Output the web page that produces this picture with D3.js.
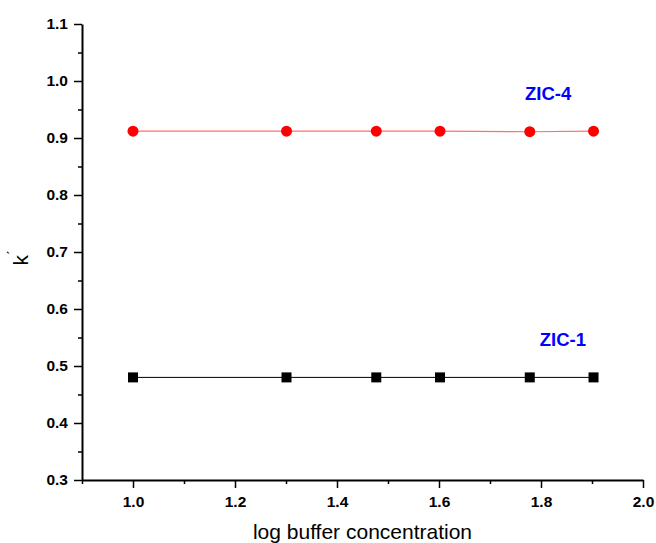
<!DOCTYPE html>
<html>
<head>
<meta charset="utf-8">
<script src="https://cdn.jsdelivr.net/npm/d3@7"></script>
<style>
  body { margin: 0; background: #fff; }
  svg { font-family: Arial, "Liberation Sans", sans-serif; }
</style>
</head>
<body>
<svg id="chart" width="656" height="543"></svg>
<script>
// DATA
const logConc = [1.0, 1.301, 1.477, 1.602, 1.778, 1.903];
const zic4 = [0.912, 0.912, 0.912, 0.912, 0.911, 0.912];
const zic1 = [0.48, 0.48, 0.48, 0.48, 0.48, 0.48];
const xTicks = [1.0, 1.2, 1.4, 1.6, 1.8, 2.0];
const yTicks = [0.3, 0.4, 0.5, 0.6, 0.7, 0.8, 0.9, 1.0, 1.1];

// SETUP
const margin = { top: 24, right: 13, bottom: 63, left: 82 },
    width = 656 - margin.left - margin.right,
    height = 543 - margin.top - margin.bottom;

const svg = d3.select("#chart")
    .append("g")
    .attr("transform", `translate(${margin.left},${margin.top})`);

// SCALES
const x = d3.scaleLinear().domain([0.9, 2.0]).range([0, width]);
const y = d3.scaleLinear().domain([0.3, 1.1]).range([height, 0]);

// minor ticks
const xMinor = d3.range(0.9, 2.0, 0.2).map(d => +d.toFixed(2));
const yMinor = d3.range(0.35, 1.1, 0.1).map(d => +d.toFixed(2));

svg.append("g")
    .attr("transform", `translate(0,${height})`)
    .call(d3.axisBottom(x).tickValues(xMinor).tickSize(4).tickFormat(""))
    .call(g => g.select(".domain").remove())
    .selectAll("line").attr("stroke-width", 1.5);

svg.append("g")
    .call(d3.axisLeft(y).tickValues(yMinor).tickSize(4).tickFormat(""))
    .call(g => g.select(".domain").remove())
    .selectAll("line").attr("stroke-width", 1.5);

// AXES
const xAxis = svg.append("g")
    .attr("transform", `translate(0,${height})`)
    .call(d3.axisBottom(x).tickValues(xTicks).tickSize(8).tickSizeOuter(0)
        .tickFormat(d3.format(".1f")));
xAxis.select(".domain").attr("stroke-width", 2);
xAxis.selectAll(".tick line").attr("stroke-width", 1.5);
xAxis.selectAll(".tick text")
    .attr("font-size", 15.5)
    .attr("font-weight", "bold")
    .attr("y", 16)
    .attr("dy", "0.71em");

const yAxis = svg.append("g")
    .call(d3.axisLeft(y).tickValues(yTicks).tickSize(8).tickSizeOuter(0)
        .tickFormat(d3.format(".1f")));
yAxis.select(".domain").attr("stroke-width", 2);
yAxis.selectAll(".tick line").attr("stroke-width", 1.5);
yAxis.selectAll(".tick text")
    .attr("font-size", 15.5)
    .attr("font-weight", "bold")
    .attr("x", -14);

// LINES
const line = d3.line()
    .x((d, i) => x(logConc[i]))
    .y(d => y(d));

svg.append("path")
    .datum(zic4)
    .attr("d", line)
    .attr("fill", "none")
    .attr("stroke", "#ff7070")
    .attr("stroke-width", 1.2);

svg.append("path")
    .datum(zic1)
    .attr("d", line)
    .attr("fill", "none")
    .attr("stroke", "#000")
    .attr("stroke-width", 1);

svg.selectAll("circle.zic4")
    .data(zic4)
    .enter()
    .append("circle")
    .attr("class", "zic4")
    .attr("cx", (d, i) => x(logConc[i]))
    .attr("cy", d => y(d))
    .attr("r", 5.5)
    .attr("fill", "#ff0000");

svg.selectAll("rect.zic1")
    .data(zic1)
    .enter()
    .append("rect")
    .attr("class", "zic1")
    .attr("x", (d, i) => x(logConc[i]) - 5)
    .attr("y", d => y(d) - 5)
    .attr("width", 10)
    .attr("height", 10)
    .attr("fill", "#000");

// SERIES LABELS
svg.append("text")
    .attr("x", x(1.814))
    .attr("y", y(0.967))
    .attr("text-anchor", "middle")
    .attr("font-size", 18.5)
    .attr("font-weight", "bold")
    .attr("fill", "#0000ff")
    .text("ZIC-4");

svg.append("text")
    .attr("x", x(1.843))
    .attr("y", y(0.535))
    .attr("text-anchor", "middle")
    .attr("font-size", 18.5)
    .attr("font-weight", "bold")
    .attr("fill", "#0000ff")
    .text("ZIC-1");

// AXIS LABELS
svg.append("text")
    .attr("x", width / 2)
    .attr("y", height + 59)
    .attr("text-anchor", "middle")
    .attr("font-size", 21)
    .text("log buffer concentration");

const yLab = svg.append("text")
    .attr("transform", "rotate(-90)")
    .attr("x", -(y(0.7) + 6))
    .attr("y", -margin.left + 28)
    .attr("text-anchor", "middle")
    .attr("font-size", 21)
    .text("k");
yLab.append("tspan")
    .attr("dy", -10)
    .attr("font-size", 14)
    .text("\u02CA");
</script>
</body>
</html>
